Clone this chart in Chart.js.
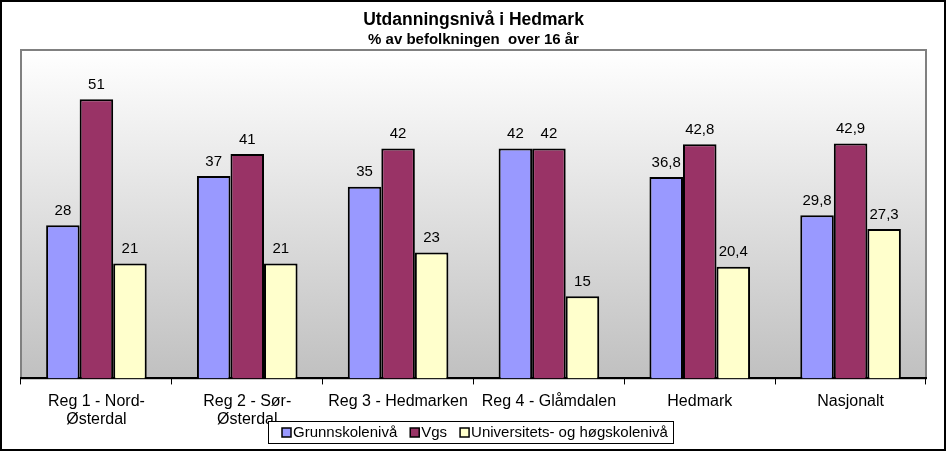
<!DOCTYPE html>
<html>
<head>
<meta charset="utf-8">
<script src="https://cdn.jsdelivr.net/npm/chart.js@4.4.1/dist/chart.umd.min.js"></script>
<style>
  html, body { margin: 0; padding: 0; background: #fff; }
  #wrap { width: 946px; height: 451px; }
</style>
</head>
<body>
<div id="wrap"><canvas id="graf"></canvas></div>
<script>
// data lest av fra figuren
const regioner = [['Reg 1 - Nord-', 'Østerdal'], ['Reg 2 - Sør-', 'Østerdal'], 'Reg 3 - Hedmarken', 'Reg 4 - Glåmdalen', 'Hedmark', 'Nasjonalt'];
const grunnskole = [28, 37, 35, 42, 36.8, 29.8];
const vgs = [51, 41, 42, 42, 42.8, 42.9];
const hogskole = [21, 21, 23, 15, 20.4, 27.3];

const fontNavn = '"Liberation Sans", Arial, sans-serif';

// tall med komma som desimaltegn
function formaterTall(v) {
  return String(v).replace('.', ',');
}

// bakgrunn, ramme og gradient i plottområdet
const rammePlugin = {
  id: 'ramme',
  beforeDraw(chart) {
    const { ctx, width, height, chartArea: a } = chart;
    ctx.save();
    ctx.fillStyle = '#fff';
    ctx.fillRect(0, 0, width, height);
    const g = ctx.createLinearGradient(0, a.top, 0, a.bottom);
    g.addColorStop(0, '#ffffff');
    g.addColorStop(1, '#c0c0c0');
    ctx.fillStyle = g;
    ctx.fillRect(a.left, a.top, a.right - a.left, a.bottom - a.top);
    ctx.strokeStyle = '#808080';
    ctx.lineWidth = 2;
    ctx.strokeRect(a.left, a.top, a.right - a.left, a.bottom - a.top);
    ctx.strokeStyle = '#000';
    ctx.lineWidth = 2;
    ctx.strokeRect(1, 1, width - 2, height - 2);
    ctx.restore();
  }
};

// egen legende nederst, med ramme rundt
const legendePlugin = {
  id: 'legende',
  afterDraw(chart) {
    const { ctx } = chart;
    const ds = chart.data.datasets;
    ctx.save();
    ctx.font = '15px ' + fontNavn;
    const bredder = ds.map(d => ctx.measureText(d.label).width);
    const total = 14 + bredder.reduce((s, b) => s + 9 + 2 + b, 0) + 13 * (ds.length - 1) + 5;
    const midt = (chart.chartArea.left + chart.chartArea.right) / 2 - 3;
    const x0 = Math.round(midt - total / 2);
    const topp = 421, hoyde = 22;
    ctx.strokeStyle = '#000';
    ctx.lineWidth = 1;
    ctx.fillStyle = '#fff';
    ctx.fillRect(x0, topp, total, hoyde);
    ctx.strokeRect(x0 + 0.5, topp + 0.5, Math.round(total), hoyde);
    let x = x0 + 14;
    const cy = topp + hoyde / 2 + 0.5;
    ds.forEach((d, i) => {
      ctx.fillStyle = d.backgroundColor;
      ctx.fillRect(x, cy - 4.5, 9, 9);
      ctx.lineWidth = 1.5;
      ctx.strokeRect(x, cy - 4.5, 9, 9);
      ctx.fillStyle = '#000';
      ctx.textBaseline = 'middle';
      ctx.textAlign = 'left';
      ctx.fillText(d.label, x + 11, cy);
      x += 11 + bredder[i] + 13;
    });
    ctx.restore();
  }
};

// verdier over søylene
const etikettPlugin = {
  id: 'etiketter',
  afterDatasetsDraw(chart) {
    const { ctx } = chart;
    ctx.save();
    ctx.font = '15px ' + fontNavn;
    ctx.fillStyle = '#000';
    ctx.textAlign = 'center';
    ctx.textBaseline = 'bottom';
    chart.data.datasets.forEach((ds, i) => {
      chart.getDatasetMeta(i).data.forEach((bar, j) => {
        ctx.fillText(formaterTall(ds.data[j]), bar.x, bar.y - 7);
      });
    });
    ctx.restore();
  }
};

new Chart(document.getElementById('graf'), {
  type: 'bar',
  data: {
    labels: regioner,
    datasets: [
      { label: 'Grunnskolenivå', data: grunnskole, backgroundColor: '#9999ff' },
      { label: 'Vgs', data: vgs, backgroundColor: '#993366' },
      { label: 'Universitets- og høgskolenivå', data: hogskole, backgroundColor: '#ffffcc' }
    ]
  },
  options: {
    responsive: true,
    maintainAspectRatio: false,
    animation: false,
    devicePixelRatio: 1,
    layout: { padding: { left: 21, right: 20, top: 0, bottom: 14 } },
    datasets: {
      bar: {
        borderColor: '#000',
        borderWidth: 2,
        borderSkipped: 'bottom',
        categoryPercentage: 0.667,
        barPercentage: 1
      }
    },
    scales: {
      x: {
        grid: { display: true, drawOnChartArea: false, drawTicks: true, tickLength: 6, color: '#000', offset: true },
        border: { display: true, color: '#000', width: 2 },
        ticks: { color: '#000', font: { family: fontNavn, size: 16, lineHeight: 1.08 }, padding: 9, maxRotation: 0, autoSkip: false }
      },
      y: {
        display: false,
        min: 0,
        max: 60
      }
    },
    plugins: {
      title: {
        display: true,
        text: 'Utdanningsnivå i Hedmark',
        color: '#000',
        font: { family: fontNavn, size: 17.5, weight: 'bold' },
        padding: { top: 10, bottom: 0 }
      },
      subtitle: {
        display: true,
        text: '% av befolkningen  over 16 år',
        color: '#000',
        font: { family: fontNavn, size: 15, weight: 'bold' },
        padding: { top: 0, bottom: 1 }
      },
      legend: { display: false },
      tooltip: { enabled: false }
    }
  },
  plugins: [rammePlugin, etikettPlugin, legendePlugin]
});
</script>
</body>
</html>
